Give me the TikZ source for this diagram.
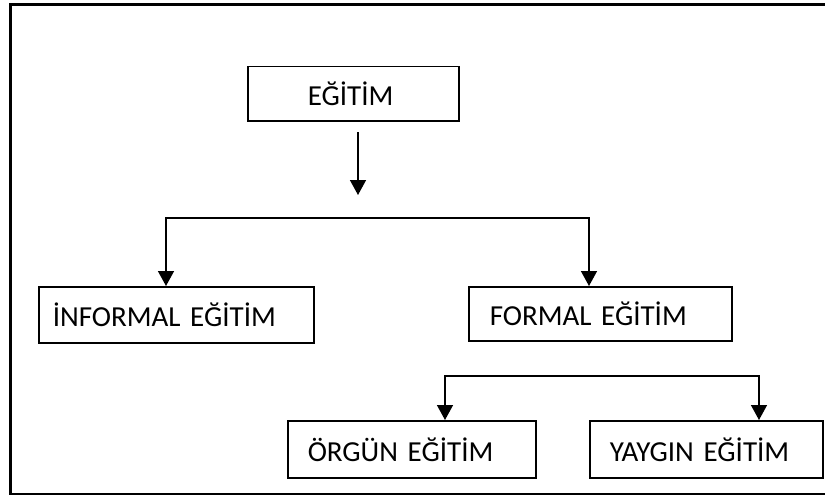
\documentclass[tikz,border=0pt]{standalone}
\usepackage{fontspec}
\setmainfont{Carlito}
\usetikzlibrary{arrows.meta}
\begin{document}
\begin{tikzpicture}[x=1pt, y=-1pt, line width=1.5pt,
	main/.style = {draw, anchor=north west, align=left, inner ysep=0pt, text height=24pt, text depth=0pt, font=\fontsize{29}{34}\selectfont},
	>={Triangle[width=16pt, length=15pt]}]
		\useasboundingbox (0,0) rectangle (825,495);
		\draw[line width=3pt] (825,5) -- (10,5) -- (10,494) -- (825,494);
		\node[main, minimum height=54pt, inner xsep=60pt, text width=91pt] (1) at (247,66) {EĞİTİM};
		\node[main, minimum height=56pt, inner xsep=14pt, text width=247pt] (2) at (38,286) {İNFORMAL EĞİTİM};
		\node[main, minimum height=54pt, inner xsep=21pt, text width=221pt] (3) at (468,286) {FORMAL EĞİTİM};
		\node[main, minimum height=57pt, inner xsep=20pt, text width=208pt] (4) at (287,420) {ÖRGÜN EĞİTİM};
		\node[main, minimum height=57pt, inner xsep=20pt, text width=193pt] (5) at (589,420) {YAYGIN EĞİTİM};
		\coordinate (a) at (358,132);
		\coordinate (b) at (358,195);
		\coordinate (c) at (166,218);
		\coordinate (d) at (589,218);
		\coordinate (e) at (445,376);
		\coordinate (f) at (759,376);
		\draw[->] (a) -- (b);
		\draw[<->] (c |- 2.north) -- (c) -- (d) -- (d |- 3.north);
		\draw[<->] (e |- 4.north) -- (e) -- (f) -- (f |- 5.north);
	\end{tikzpicture}
\end{document}
